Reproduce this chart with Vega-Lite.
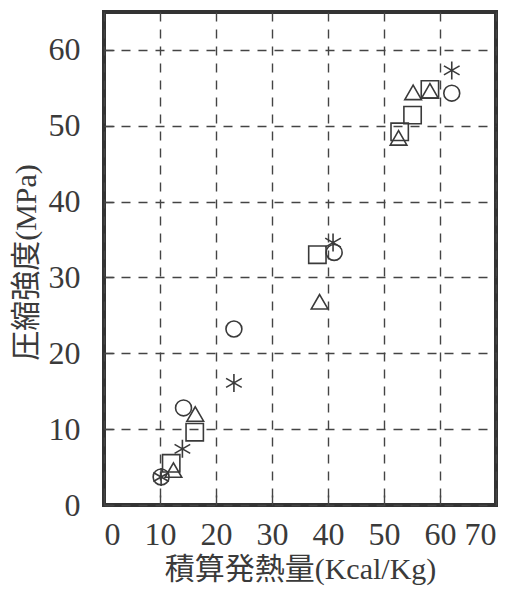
{
  "$schema": "https://vega.github.io/schema/vega-lite/v6.json",
  "width": 392,
  "height": 493,
  "autosize": {"type": "none"},
  "padding": {"left": 104, "top": 12, "right": 16, "bottom": 86},
  "background": "white",
  "config": {"view": {"stroke": "#333", "strokeWidth": 4}},
  "data": {
    "values": [
      {"series": "A", "heat": 10.2, "strength": 3.7},
      {"series": "A", "heat": 14.2, "strength": 12.8},
      {"series": "A", "heat": 23.2, "strength": 23.2},
      {"series": "A", "heat": 41.1, "strength": 33.3},
      {"series": "A", "heat": 62.1, "strength": 54.3},
      {"series": "B", "heat": 12.4, "strength": 4.6},
      {"series": "B", "heat": 16.3, "strength": 12.0},
      {"series": "B", "heat": 38.5, "strength": 26.8},
      {"series": "B", "heat": 52.6, "strength": 48.4},
      {"series": "B", "heat": 55.2, "strength": 54.4},
      {"series": "B", "heat": 58.2, "strength": 54.6},
      {"series": "C", "heat": 12.0, "strength": 5.5},
      {"series": "C", "heat": 16.2, "strength": 9.6},
      {"series": "C", "heat": 38.1, "strength": 33.0},
      {"series": "C", "heat": 52.8, "strength": 49.2},
      {"series": "C", "heat": 55.1, "strength": 51.4},
      {"series": "C", "heat": 58.2, "strength": 54.8},
      {"series": "D", "heat": 10.2, "strength": 3.7},
      {"series": "D", "heat": 14.0, "strength": 7.4},
      {"series": "D", "heat": 23.2, "strength": 16.1},
      {"series": "D", "heat": 40.9, "strength": 34.6},
      {"series": "D", "heat": 62.1, "strength": 57.3}
    ]
  },
  "mark": {"type": "point", "filled": false, "strokeWidth": 1.6, "color": "#3a3a3a", "opacity": 1},
  "encoding": {
    "x": {
      "field": "heat", "type": "quantitative",
      "scale": {"domain": [0, 70], "nice": false, "zero": false},
      "axis": {
        "values": [0, 10, 20, 30, 40, 50, 60, 70],
        "grid": true, "gridDash": [9, 8], "gridColor": "#444", "gridWidth": 1.4,
        "domain": false, "ticks": true, "tickSize": -10, "tickColor": "#444", "tickWidth": 1.4,
        "labelFont": "Liberation Serif", "labelFontSize": 32, "labelColor": "#3a3a3a", "labelPadding": 24,
        "labelOverlap": false, "labelBound": false,
        "title": "積算発熱量(Kcal/Kg)", "titleFont": "Liberation Serif, Noto Sans CJK JP", "titleFontSize": 30,
        "titleFontWeight": "normal", "titleColor": "#3a3a3a", "titlePadding": 4
      }
    },
    "y": {
      "field": "strength", "type": "quantitative",
      "scale": {"domain": [0, 65], "nice": false, "zero": false},
      "axis": {
        "values": [0, 10, 20, 30, 40, 50, 60],
        "grid": true, "gridDash": [9, 8], "gridColor": "#444", "gridWidth": 1.4,
        "domain": false, "ticks": true, "tickSize": -10, "tickColor": "#444", "tickWidth": 1.4,
        "labelFont": "Liberation Serif", "labelFontSize": 32, "labelColor": "#3a3a3a", "labelPadding": 34,
        "labelOverlap": false, "labelBound": false,
        "title": "圧縮強度(MPa)", "titleFont": "Liberation Serif, Noto Sans CJK JP", "titleFontSize": 30,
        "titleFontWeight": "normal", "titleColor": "#3a3a3a",
        "titleX": -78, "titleY": 250, "titleAlign": "center", "titleBaseline": "middle", "titleAngle": -90
      }
    },
    "shape": {
      "field": "series", "type": "nominal",
      "scale": {"domain": ["A", "B", "C", "D"], "range": ["circle", "triangle-up", "square", "M0,-1L0,1M-0.87,-0.5L0.87,0.5M-0.87,0.5L0.87,-0.5"]},
      "legend": null
    },
    "size": {
      "field": "series", "type": "ordinal",
      "scale": {"domain": ["A", "B", "C", "D"], "range": [254, 324, 256, 256]},
      "legend": null
    }
  }
}
